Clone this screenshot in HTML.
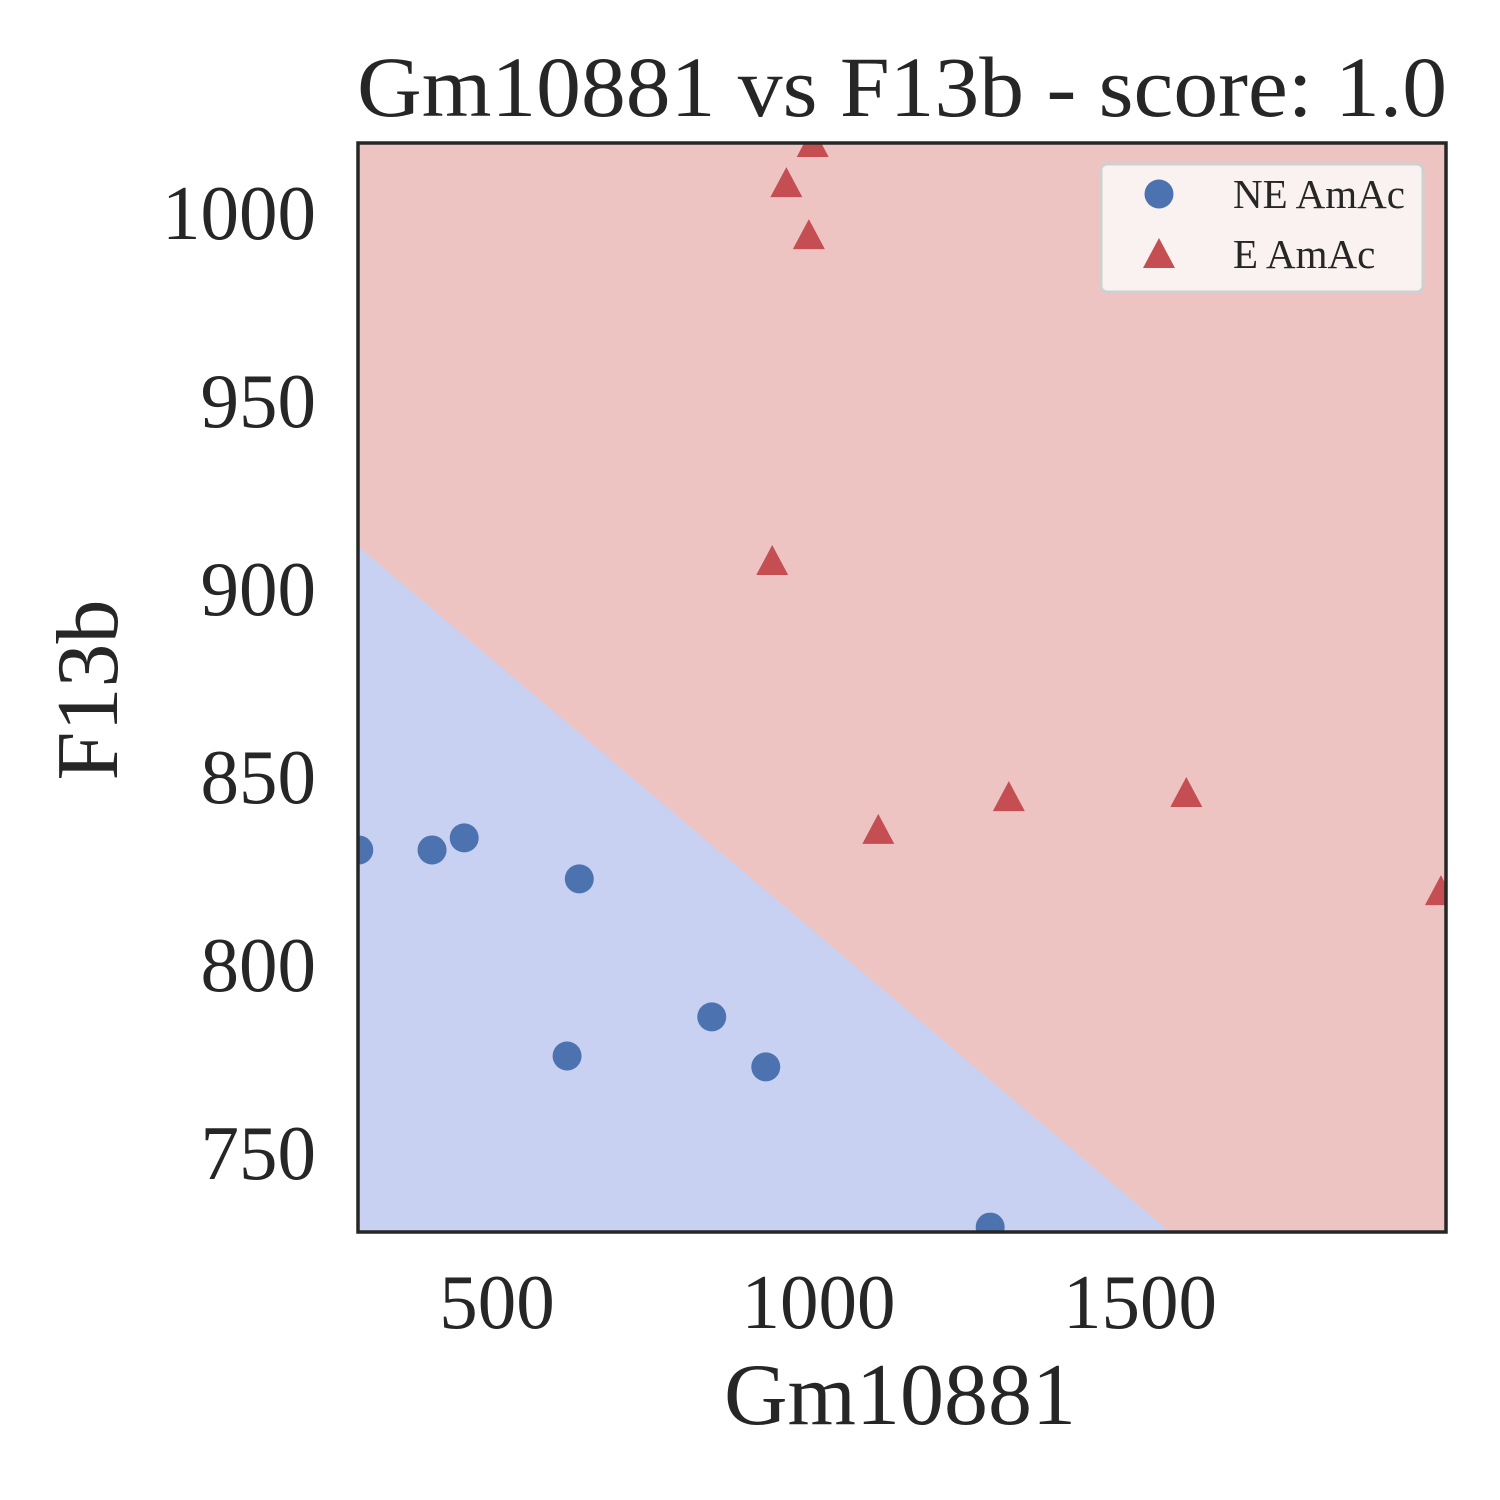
<!DOCTYPE html>
<html><head><meta charset="utf-8"><style>
html,body{margin:0;padding:0;background:#fff;overflow:hidden;width:1500px;height:1500px;}
svg{display:block;font-family:"Liberation Serif","DejaVu Serif",serif;}
</style></head><body>
<svg id="chart" width="1500" height="1500" viewBox="0 0 1500 1500">
<defs><clipPath id="clip"><rect x="358" y="143" width="1088" height="1089"/></clipPath></defs>
<g id="plot" clip-path="url(#clip)"></g>
<rect x="358" y="143" width="1088" height="1089" fill="none" stroke="#262626" stroke-width="3.5"/>
<g id="ticks"></g>
<text x="902" y="116" font-size="86" text-anchor="middle" fill="#262626" textLength="1090" lengthAdjust="spacingAndGlyphs">Gm10881 vs F13b - score: 1.0</text>
<text x="900" y="1424" font-size="88" text-anchor="middle" fill="#262626">Gm10881</text>
<text transform="translate(117,690) rotate(-90)" font-size="88" text-anchor="middle" fill="#262626">F13b</text>
<g>
<rect x="1101" y="164" width="322" height="128" rx="6" fill="#faf2f1" stroke="#d0d0d0" stroke-width="3"/>
<circle cx="1159" cy="194" r="14.5" fill="#4c72b0"/>
<polygon points="1159,238 1175,268 1143,268" fill="#c44e52"/>
<text x="1233" y="208" font-size="41" fill="#262626">NE AmAc</text>
<text x="1233" y="268" font-size="41" fill="#262626">E AmAc</text>
</g>
</svg>
<script>
const xTicks=[500,1000,1500];
const yTicks=[750,800,850,900,950,1000];
const neX=[285,399,449,628,834,609,918,1267];
const neY=[830.6,830.6,833.8,822.9,786.2,775.8,772.9,730.3];
const eX=[991,950,985,928,1093,1296,1572,1968];
const eY=[1018.1,1007.4,993.6,906.9,835.4,844.1,845.2,819.1];
const boundaryX=[283.8,1546.7];
const boundaryY=[911.4,729];
const X=v=>497+(v-500)*0.643;
const Y=v=>213+(1000-v)*3.76;
const NS="http://www.w3.org/2000/svg";
const plot=document.getElementById('plot'),ticks=document.getElementById('ticks');
function mk(tag,attrs,parent){const e=document.createElementNS(NS,tag);for(const k in attrs)e.setAttribute(k,attrs[k]);parent.appendChild(e);return e;}
const bg=mk('rect',{x:358,y:143,width:1088,height:1089,fill:'#eec4c3'},plot);


const x0=X(boundaryX[0]),y0=Y(boundaryY[0]),x1=X(boundaryX[1]),y1=Y(boundaryY[1]);
const sl=(y1-y0)/(x1-x0);
const ext=(x)=>y0+(x-x0)*sl;
const poly=mk('polygon',{points:`300,${ext(300)} 1600,${ext(1600)} 1600,1300 300,1300`,fill:'#c8d1f1'},plot);


neX.forEach((v,i)=>{const c=mk('circle',{cx:X(v),cy:Y(neY[i]),r:14.5,fill:'#4c72b0'},plot);

});
eX.forEach((v,i)=>{const cx=X(v),cy=Y(eY[i]);const t=mk('polygon',{points:`${cx},${cy-18} ${cx+16},${cy+12} ${cx-16},${cy+12}`,fill:'#c44e52'},plot);

});
xTicks.forEach(v=>{const t=mk('text',{x:X(v),y:1328,'font-size':77,'text-anchor':'middle',fill:'#262626'},ticks);t.textContent=v;

});
yTicks.forEach(v=>{const t=mk('text',{x:316,y:Y(v)+26,'font-size':77,'text-anchor':'end',fill:'#262626'},ticks);t.textContent=v;

});
</script>
</body></html>
